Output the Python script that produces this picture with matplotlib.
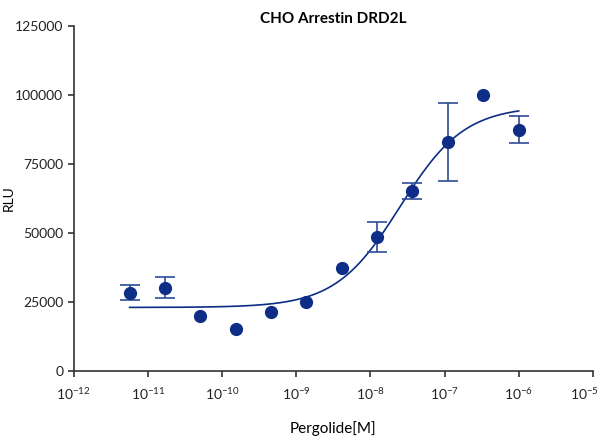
import numpy as np
import matplotlib
matplotlib.use('Agg')
import matplotlib.pyplot as plt
import matplotlib.transforms as mtransforms

plt.rcParams['font.family'] = ['Lato', 'DejaVu Sans']
plt.rcParams['mathtext.fontset'] = 'custom'
plt.rcParams['mathtext.rm'] = 'Lato'
plt.rcParams['mathtext.it'] = 'Lato:italic'
plt.rcParams['mathtext.bf'] = 'Lato:bold'
plt.rcParams['axes.unicode_minus'] = False

# Pergolide concentrations (M), 3-fold dilutions
conc = [5.65e-12, 1.69e-11, 5.08e-11, 1.52e-10, 4.57e-10, 1.37e-9,
        4.12e-9, 1.23e-8, 3.7e-8, 1.11e-7, 3.33e-7, 1e-6]
rlu = [28400, 30100, 19900, 15100, 21300, 25100,
       37200, 48600, 65200, 83000, 100000, 87400]
err = [2850, 3800, 0, 0, 0, 0,
       0, 5400, 3000, 14000, 0, 4800]

# 4PL fit parameters
bottom = 23000
top = 96000
log_ec50 = -7.6
hill = 1.0

col = '#0d2d86'

fig = plt.figure(figsize=(6, 4.4), dpi=100)
ax = fig.add_axes([0.123, 0.157, 0.865, 0.784])

xs = np.logspace(np.log10(conc[0]), np.log10(conc[-1]), 300)
ys = bottom + (top - bottom) / (1 + 10 ** ((log_ec50 - np.log10(xs)) * hill))
ax.plot(xs, ys, color=col, lw=1.2)

# error bars only where they are visible
ex = [c for c, e in zip(conc, err) if e > 0]
ey = [r for r, e in zip(rlu, err) if e > 0]
ee = [e for e in err if e > 0]
ax.errorbar(ex, ey, yerr=ee, fmt='none', ecolor='#2d4c98',
            elinewidth=1.2, capsize=7, capthick=1.2)
ax.plot(conc, rlu, 'o', color=col, ms=8.5, zorder=3)

ax.set_xscale('log')
ax.set_xlim(1e-12, 1e-5)
ax.set_ylim(0, 125000)
ax.set_xticks([10.0 ** k for k in range(-12, -4)])
ax.minorticks_off()
ax.set_yticks([0, 25000, 50000, 75000, 100000, 125000])
ax.set_yticklabels(['0', '25000', '50000', '75000', '100000', '125000'])

for s in ['top', 'right']:
    ax.spines[s].set_visible(False)
for s in ['left', 'bottom']:
    ax.spines[s].set_color('#333333')
    ax.spines[s].set_linewidth(1.2)
ax.tick_params(direction='out', length=4, width=1.2, colors='#333333',
               labelsize=10, labelcolor='#222222')
ax.tick_params(axis='x', pad=7)

# keep the last decade label inside the figure
fig.canvas.draw()
last = ax.get_xticklabels()[-1]
last.set_transform(last.get_transform() +
                   mtransforms.ScaledTranslation(-8 / 100, 0, fig.dpi_scale_trans))

ax.set_title('CHO Arrestin DRD2L', fontsize=11, fontweight='bold', pad=1)
ax.set_xlabel('Pergolide[M]', fontsize=11, labelpad=14)
ax.set_ylabel('RLU', fontsize=10)
ax.yaxis.set_label_coords(-0.113, 0.5)

fig.savefig('out.png', dpi=100)
